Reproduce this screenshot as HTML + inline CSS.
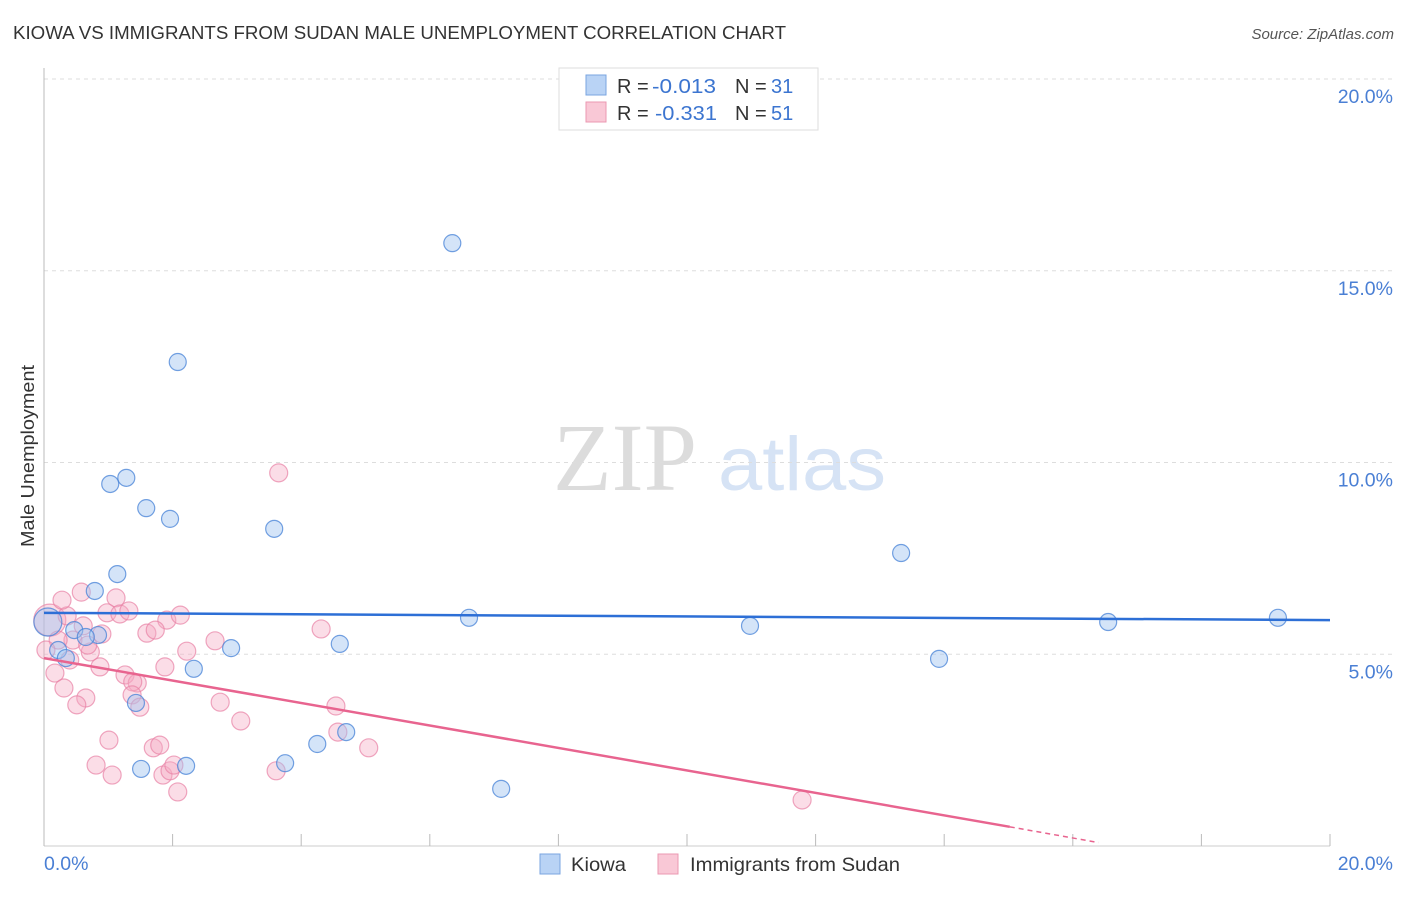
<!DOCTYPE html>
<html><head><meta charset="utf-8"><style>
body{margin:0;background:#fff;font-family:"Liberation Sans",sans-serif;}
svg text{font-family:"Liberation Sans",sans-serif;}
</style></head><body>
<svg id="chart" width="1406" height="892" viewBox="0 0 1406 892" xmlns="http://www.w3.org/2000/svg">
<text x="13" y="39" font-size="18" fill="#333" textLength="773" lengthAdjust="spacingAndGlyphs">KIOWA VS IMMIGRANTS FROM SUDAN MALE UNEMPLOYMENT CORRELATION CHART</text>
<text x="1394" y="39" font-size="15" fill="#555" font-style="italic" text-anchor="end">Source: ZipAtlas.com</text>
<text x="553" y="490" font-size="96" fill="#dcdcdc" style="font-family:'Liberation Serif',serif">ZIP</text>
<text x="718" y="490" font-size="76" fill="#d6e3f5" textLength="168" lengthAdjust="spacingAndGlyphs">atlas</text>
<text transform="translate(34,456) rotate(-90)" font-size="18.5" fill="#333" text-anchor="middle" textLength="182" lengthAdjust="spacingAndGlyphs">Male Unemployment</text>
<g id="grid"></g>
<g id="axes"></g>
<g id="marks"></g>
<g id="trends"></g>
<g>
<rect x="559" y="68" width="259" height="62" fill="#fff" stroke="#ddd"/>
<rect x="586" y="75" width="20" height="20" fill="#b9d3f5" stroke="#7aa5e0"/>
<rect x="586" y="102" width="20" height="20" fill="#f9c8d6" stroke="#eb98b2"/>
<text x="617" y="93" font-size="20" fill="#333">R =</text>
<text x="652" y="93" font-size="20" fill="#3c75d0" textLength="64" lengthAdjust="spacingAndGlyphs">-0.013</text>
<text x="735" y="93" font-size="20" fill="#333">N =</text>
<text x="771" y="93" font-size="20" fill="#3c75d0">31</text>
<text x="617" y="120" font-size="20" fill="#333">R =</text>
<text x="655" y="120" font-size="20" fill="#3c75d0" textLength="62" lengthAdjust="spacingAndGlyphs">-0.331</text>
<text x="735" y="120" font-size="20" fill="#333">N =</text>
<text x="771" y="120" font-size="20" fill="#3c75d0">51</text>
</g>
<g>
<rect x="540" y="854" width="20" height="20" fill="#b9d3f5" stroke="#7aa5e0"/>
<text x="571" y="871" font-size="19.5" fill="#333" textLength="55" lengthAdjust="spacingAndGlyphs">Kiowa</text>
<rect x="658" y="854" width="20" height="20" fill="#f9c8d6" stroke="#eb98b2"/>
<text x="690" y="871" font-size="19.5" fill="#333" textLength="210" lengthAdjust="spacingAndGlyphs">Immigrants from Sudan</text>
</g>
</svg>
<script>
const yTicks=[5,10,15,20];
const yTickLabels=["5.0%","10.0%","15.0%","20.0%"];
const xTickLabels=["0.0%","20.0%"];
const kiowaX=[0.06,6.35,2.08,1.28,1.03,1.59,1.96,3.58,13.33,1.14,0.79,6.61,16.55,19.19,10.98,0.47,0.84,0.65,4.60,2.91,0.22,0.34,13.92,2.33,1.43,4.70,4.25,3.75,2.21,1.51,7.11];
const kiowaY=[5.84,15.72,12.62,9.60,9.44,8.81,8.53,8.27,7.64,7.09,6.65,5.95,5.84,5.95,5.74,5.63,5.50,5.45,5.27,5.16,5.11,4.90,4.88,4.62,3.73,2.97,2.66,2.16,2.09,2.01,1.49];
const sudanX=[0.09,0.58,1.12,0.98,1.18,1.32,0.36,0.61,1.91,2.12,1.60,1.73,0.90,0.45,2.66,4.31,2.22,0.72,1.88,0.87,0.17,1.26,1.45,1.38,0.31,0.65,0.51,1.37,1.49,2.74,4.54,3.06,4.57,5.05,1.01,1.70,1.80,0.81,1.06,1.85,1.96,2.02,2.08,3.61,3.65,11.79,0.22,0.40,0.28,0.68,0.03];
const sudanY=[5.89,6.62,6.47,6.08,6.05,6.13,6.00,5.74,5.89,6.02,5.55,5.63,5.53,5.37,5.35,5.66,5.08,5.06,4.67,4.67,4.51,4.46,4.25,4.28,4.12,3.86,3.68,3.94,3.62,3.75,3.65,3.26,2.97,2.56,2.76,2.56,2.63,2.11,1.85,1.85,1.96,2.11,1.41,1.96,9.73,1.20,5.37,4.85,6.41,5.24,5.11];
const kiowaTrendX=[0,20], kiowaTrendY=[6.08,5.89];
const sudanTrendX=[0,15.02], sudanTrendY=[4.90,0.50];
const sudanDashX=[15.02,16.4], sudanDashY=[0.50,0.09];

const X0=44,X1=1330,Y0=846,Y20=79;
const sx=v=>X0+(v/20)*(X1-X0);
const sy=v=>Y0-(v/20)*(Y0-Y20);
const NS="http://www.w3.org/2000/svg";
function mk(tag,attrs,parent){const e=document.createElementNS(NS,tag);for(const k in attrs)e.setAttribute(k,attrs[k]);parent.appendChild(e);return e;}
const grid=document.getElementById('grid'),axes=document.getElementById('axes'),marks=document.getElementById('marks'),trends=document.getElementById('trends');
yTicks.forEach((t,i)=>{
  const l=mk('line',{x1:X0,x2:1394,y1:sy(t),y2:sy(t),stroke:'#ddd','stroke-dasharray':'4,4'},grid);
  
  
  const tx=mk('text',{x:1393,y:sy(t)+24,'font-size':19.5,fill:'#4a7fd4','text-anchor':'end'},axes);
  tx.textContent=yTickLabels[i];
  
  
});
let a=mk('line',{x1:X0,x2:X0,y1:68,y2:Y0,stroke:'#bbb'},axes);


a=mk('line',{x1:X0,x2:X1,y1:Y0,y2:Y0,stroke:'#ccc'},axes);


for(let i=0;i<=10;i++){
  const t=mk('line',{x1:sx(i*2),x2:sx(i*2),y1:Y0,y2:Y0-12,stroke:'#bbb'},axes);
  
  
}
let xl=mk('text',{x:44,y:870,'font-size':19.5,fill:'#4a7fd4'},axes);xl.textContent=xTickLabels[0];


xl=mk('text',{x:1393,y:870,'font-size':19.5,fill:'#4a7fd4','text-anchor':'end'},axes);xl.textContent=xTickLabels[1];


sudanX.forEach((v,i)=>{
  const c=mk('circle',{cx:sx(v),cy:sy(sudanY[i]),r:i===0?16:9,fill:'rgba(245,170,195,0.4)',stroke:'rgba(232,130,165,0.7)','stroke-width':1.2},marks);
  
  
});
kiowaX.forEach((v,i)=>{
  const c=mk('circle',{cx:sx(v),cy:sy(kiowaY[i]),r:i===0?14:8.5,fill:'rgba(160,195,240,0.45)',stroke:'rgba(70,130,215,0.75)','stroke-width':1.2},marks);
  
  
});
let tl=mk('line',{x1:sx(kiowaTrendX[0]),y1:sy(kiowaTrendY[0]),x2:sx(kiowaTrendX[1]),y2:sy(kiowaTrendY[1]),stroke:'#2d6fd6','stroke-width':2.5},trends);


tl=mk('line',{x1:sx(sudanTrendX[0]),y1:sy(sudanTrendY[0]),x2:sx(sudanTrendX[1]),y2:sy(sudanTrendY[1]),stroke:'#e8648f','stroke-width':2.5},trends);


tl=mk('line',{x1:sx(sudanDashX[0]),y1:sy(sudanDashY[0]),x2:sx(sudanDashX[1]),y2:sy(sudanDashY[1]),stroke:'#e8648f','stroke-width':1.5,'stroke-dasharray':'5,4'},trends);


</script>
</body></html>
